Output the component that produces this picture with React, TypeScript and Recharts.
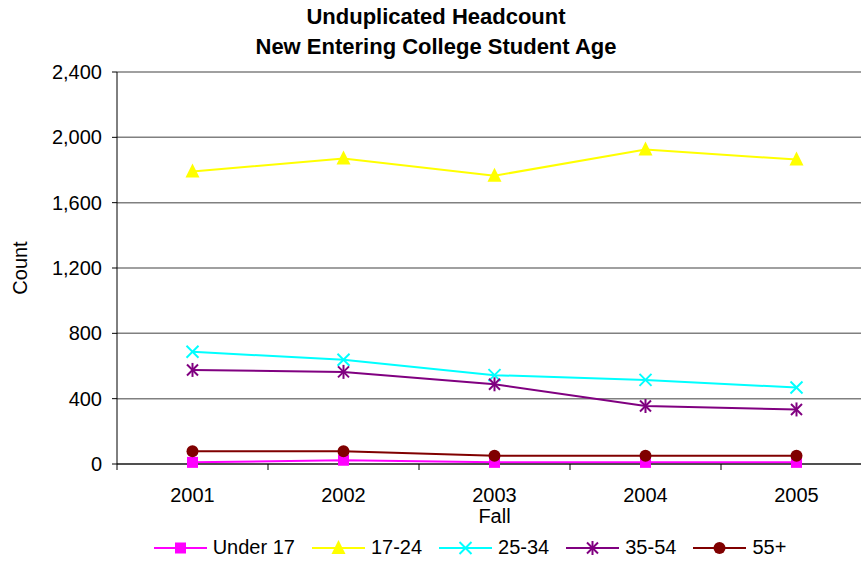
import { LineChart, Line, XAxis, YAxis, CartesianGrid, Legend, Label } from "recharts";

const YEARS = ["2001", "2002", "2003", "2004", "2005"];
const UNDER_17 = [10, 23, 10, 10, 10];
const AGE_17_24 = [1791, 1871, 1765, 1925, 1864];
const AGE_25_34 = [687, 638, 544, 515, 468];
const AGE_35_54 = [576, 564, 488, 355, 334];
const AGE_55_PLUS = [78, 78, 51, 51, 51];
const Y_TICKS = [0, 400, 800, 1200, 1600, 2000, 2400];
// integer positions carry the year labels, half positions the tick marks between categories
const X_TICKS = [0.5, 1, 1.5, 2, 2.5, 3, 3.5, 4, 4.5, 5, 5.5];

const FONT = '"Liberation Sans", Arial, sans-serif';

const SERIES = [
  { key: "u17", name: "Under 17", color: "#FF00FF", shape: "square", values: UNDER_17 },
  { key: "a1724", name: "17-24", color: "#FFFF00", shape: "triangle", values: AGE_17_24 },
  { key: "a2534", name: "25-34", color: "#00FFFF", shape: "x", values: AGE_25_34 },
  { key: "a3554", name: "35-54", color: "#800080", shape: "star", values: AGE_35_54 },
  { key: "a55", name: "55+", color: "#800000", shape: "circle", values: AGE_55_PLUS },
];

const data = YEARS.map((year, i) => {
  const row: Record<string, number | string> = { x: i + 1, year };
  SERIES.forEach((s) => {
    row[s.key] = s.values[i];
  });
  return row;
});

function Marker({ cx, cy, shape, color }: { cx: number; cy: number; shape: string; color: string }) {
  if (cx == null || cy == null) return null;
  switch (shape) {
    case "square":
      return <rect x={cx - 5.5} y={cy - 5.5} width={11} height={11} fill={color} />;
    case "triangle":
      return <polygon points={`${cx},${cy - 8} ${cx - 7},${cy + 6} ${cx + 7},${cy + 6}`} fill={color} />;
    case "x":
      return (
        <g stroke={color} strokeWidth={2}>
          <line x1={cx - 6} y1={cy - 6} x2={cx + 6} y2={cy + 6} />
          <line x1={cx - 6} y1={cy + 6} x2={cx + 6} y2={cy - 6} />
        </g>
      );
    case "star":
      return (
        <g stroke={color} strokeWidth={2}>
          <line x1={cx - 5.5} y1={cy - 5.5} x2={cx + 5.5} y2={cy + 5.5} />
          <line x1={cx - 5.5} y1={cy + 5.5} x2={cx + 5.5} y2={cy - 5.5} />
          <line x1={cx} y1={cy - 7} x2={cx} y2={cy + 7} />
        </g>
      );
    default:
      return <circle cx={cx} cy={cy} r={6} fill={color} />;
  }
}

function XTick(props: any) {
  const { x, y, payload } = props;
  const v = payload.value;
  if (Number.isInteger(v)) {
    return (
      <text x={x} y={y + 38} textAnchor="middle" fontSize={20} fontFamily={FONT} fill="#000">
        {YEARS[v - 1]}
      </text>
    );
  }
  return <line x1={x} x2={x} y1={y} y2={y + 6} stroke="#000" strokeWidth={1} />;
}

function LegendContent() {
  return (
    <div style={{ display: "flex", justifyContent: "center", alignItems: "center", gap: 17, paddingTop: 3, fontFamily: FONT, fontSize: 20 }}>
      {SERIES.map((s) => (
        <div key={s.key} style={{ display: "flex", alignItems: "center", gap: 6 }}>
          <svg width={53} height={18}>
            <line x1={0} x2={53} y1={9} y2={9} stroke={s.color} strokeWidth={2} />
            <Marker cx={26.5} cy={9} shape={s.shape} color={s.color} />
          </svg>
          <span>{s.name}</span>
        </div>
      ))}
    </div>
  );
}

export default function App() {
  return (
    <div style={{ position: "absolute", left: 0, top: 0, width: 861, height: 567, overflow: "hidden", background: "#fff" }}>
      <div
        style={{
          position: "absolute",
          left: 0,
          top: 2,
          width: 872,
          textAlign: "center",
          fontFamily: FONT,
          fontWeight: "bold",
          fontSize: 22,
          lineHeight: "30px",
          zIndex: 1,
        }}
      >
        <div>Unduplicated Headcount</div>
        <div>New Entering College Student Age</div>
      </div>
      <LineChart width={872} height={567} data={data} margin={{ top: 72, right: 0, bottom: 2, left: 0 }}>
        <CartesianGrid horizontal vertical={false} stroke="#808080" strokeWidth={1.5} />
        <XAxis
          dataKey="x"
          type="number"
          domain={[0.5, 5.5]}
          ticks={X_TICKS}
          interval={0}
          tick={<XTick />}
          tickLine={false}
          tickSize={0}
          tickMargin={0}
          axisLine={{ stroke: "#000", strokeWidth: 1 }}
          height={69}
        >
          <Label value="Fall" position="insideBottom" offset={10} style={{ fontFamily: FONT, fontSize: 20, fill: "#000" }} />
        </XAxis>
        <YAxis
          domain={[0, 2400]}
          ticks={Y_TICKS}
          interval={0}
          width={117}
          tickSize={5}
          tickMargin={10}
          tickLine={{ stroke: "#000" }}
          axisLine={{ stroke: "#000", strokeWidth: 1 }}
          tick={{ fontFamily: FONT, fontSize: 20, fill: "#000" }}
          tickFormatter={(v: number) => v.toLocaleString("en-US")}
        >
          <Label
            content={(p: any) => {
              const vb = p.viewBox;
              const cx = 20;
              const cy = vb.y + vb.height / 2;
              return (
                <text x={cx} y={cy} transform={`rotate(-90 ${cx} ${cy})`} textAnchor="middle" dominantBaseline="central" fontFamily={FONT} fontSize={20} fill="#000">
                  Count
                </text>
              );
            }}
          />
        </YAxis>
        <Legend verticalAlign="bottom" height={32} content={<LegendContent />} wrapperStyle={{ left: 0, width: 940 }} />
        {SERIES.map((s) => (
          <Line
            key={s.key}
            dataKey={s.key}
            name={s.name}
            stroke={s.color}
            strokeWidth={2}
            isAnimationActive={false}
            dot={(p: any) => <Marker key={`${s.key}-${p.index}`} cx={p.cx} cy={p.cy} shape={s.shape} color={s.color} />}
            activeDot={false}
          />
        ))}
      </LineChart>
    </div>
  );
}
